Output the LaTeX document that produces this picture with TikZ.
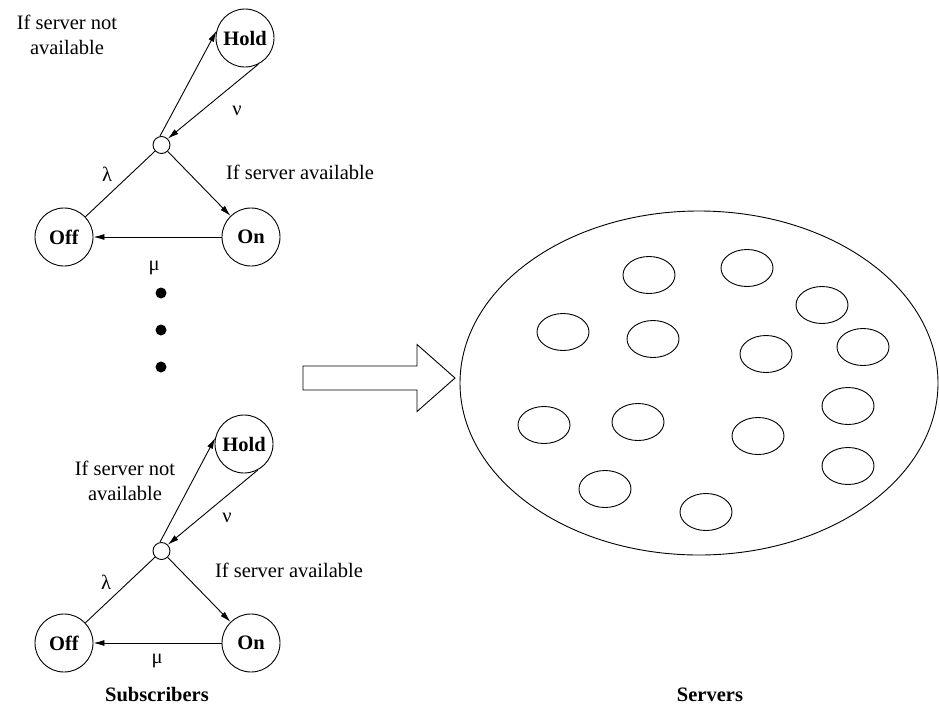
\documentclass[tikz,border=0pt]{standalone}
\usepackage{fontspec}
\setmainfont{Liberation Serif}
\usetikzlibrary{arrows.meta,shapes.geometric}
\newcommand\labelsize{\fontsize{20.5}{24.5}\selectfont}
\tikzset{
  state/.style={draw,circle,minimum size=58pt,inner sep=0pt,font=\labelsize\bfseries},
  hub/.style={draw,circle,minimum size=17pt,inner sep=0pt},
  dot/.style={fill,circle,minimum size=11pt,inner sep=0pt},
  server/.style={draw,ellipse,minimum width=52pt,minimum height=37pt,inner sep=0pt},
  pool/.style={draw,ellipse,minimum width=478pt,minimum height=344pt,inner sep=0pt},
  caption/.style={align=center,inner sep=0pt,font=\labelsize},
  title/.style={inner sep=0pt,font=\labelsize\bfseries},
  trans/.style={-{Latex[length=11pt,width=6pt]}},
  bigarrow/.style={draw,fill=white},
}

\begin{document}
\begin{tikzpicture}[x=1pt,y=-1pt,line width=0.9pt]
\useasboundingbox (0,0) rectangle (939,707);
% first subscriber
\node [state] (hold1) at (245,38) {Hold};
\node [hub] (hub1) at (161.5,145) {};
\node [state] (off1) at (64,237) {Off};
\node [state] (on1) at (251,237) {On};
\node [caption] (notavail1) at (67,35) {If server not\\available};
\node [caption] (nu1) at (237,111) {ν};
\node [caption] (lambda1) at (107,174) {λ};
\node [caption] (mu1) at (154,268) {μ};
\node [caption] (avail1) at (300,172) {If server available};
% the dots
\node [dot] (dotA) at (161,293) {};
\node [dot] (dotB) at (161,330) {};
\node [dot] (dotC) at (161,367) {};
% last subscriber
\node [state] (hold2) at (244,444) {Hold};
\node [hub] (hub2) at (161.5,551) {};
\node [state] (off2) at (64,643) {Off};
\node [state] (on2) at (251,643) {On};
\node [caption] (notavail2) at (125,481) {If server not\\available};
\node [caption] (nu2) at (227,518) {ν};
\node [caption] (lambda2) at (106,582) {λ};
\node [caption] (mu2) at (157,661) {μ};
\node [caption] (avail2) at (289,570) {If server available};
% servers
\node [pool] (pool) at (699,383) {};
\node [server] (srv1) at (649,275) {};
\node [server] (srv2) at (747,268) {};
\node [server] (srv3) at (822,305) {};
\node [server] (srv4) at (563,332) {};
\node [server] (srv5) at (653,339) {};
\node [server] (srv6) at (766,354) {};
\node [server] (srv7) at (863,347) {};
\node [server] (srv8) at (544,425) {};
\node [server] (srv9) at (638,422) {};
\node [server] (srv10) at (758,436) {};
\node [server] (srv11) at (848,406) {};
\node [server] (srv12) at (848,466) {};
\node [server] (srv13) at (605,489) {};
\node [server] (srv14) at (706,512) {};
% titles
\node [title] (subs) at (157,695) {Subscribers};
\node [title] (servs) at (710,695) {Servers};
%drawings of transitions
\draw (off1) -- (hub1);
\draw[trans] (hub1.100) -- (hold1.166);
\draw[trans] (hold1.-63) -- (hub1.45);
\draw[trans] (hub1) -- (on1);
\draw[trans] (on1) -- (off1);
\draw (off2) -- (hub2);
\draw[trans] (hub2.100) -- (hold2.168);
\draw[trans] (hold2.-62) -- (hub2.45);
\draw[trans] (hub2) -- (on2);
\draw[trans] (on2) -- (off2);
% big arrow
\draw[bigarrow] (303,366) -- (417,366) -- (417,344.5) -- (455,378)
  -- (417,411.5) -- (417,390) -- (303,390) -- cycle;
\end{tikzpicture}
\end{document}
